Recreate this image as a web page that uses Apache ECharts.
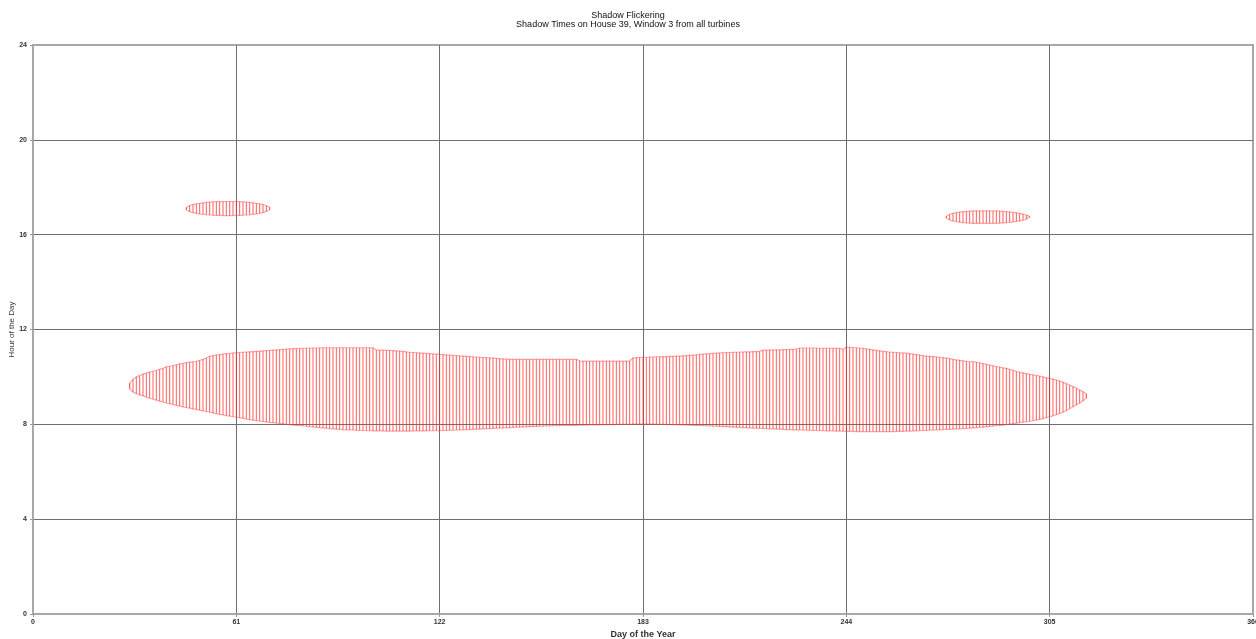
<!DOCTYPE html>
<html>
<head>
<meta charset="utf-8">
<title>Shadow Flickering</title>
<script src="https://cdn.jsdelivr.net/npm/echarts@6/dist/echarts.min.js"></script>
<style>
  html, body { margin: 0; padding: 0; background: #ffffff; overflow: hidden; }
  #chart { width: 1256px; height: 639px; }
</style>
</head>
<body>
<div id="chart"></div>
<script>
// Axis ticks
const dayTicks = [0, 61, 122, 183, 244, 305, 366];
const hourTicks = [0, 4, 8, 12, 16, 20, 24];

// Morning period: shadow start / end hour for each day from day 29 to day 316
const morningFirstDay = 29;
const morningStart = [
  9.50, 9.36, 9.29, 9.24, 9.20, 9.15, 9.10, 9.06, 9.02, 8.98, 8.94,
  8.90, 8.87, 8.84, 8.80, 8.77, 8.74, 8.71, 8.68, 8.65, 8.62,
  8.60, 8.57, 8.54, 8.51, 8.48, 8.45, 8.42, 8.40, 8.37, 8.35,
  8.32, 8.30, 8.28, 8.25, 8.23, 8.20, 8.18, 8.16, 8.14, 8.12,
  8.10, 8.08, 8.07, 8.05, 8.04, 8.02, 8.00, 7.99, 7.97, 7.96,
  7.95, 7.93, 7.92, 7.90, 7.89, 7.87, 7.86, 7.85, 7.84, 7.82,
  7.81, 7.80, 7.79, 7.78, 7.77, 7.76, 7.76, 7.75, 7.74, 7.74,
  7.73, 7.73, 7.72, 7.72, 7.72, 7.72, 7.71, 7.71, 7.71, 7.71,
  7.71, 7.71, 7.71, 7.71, 7.72, 7.72, 7.72, 7.72, 7.72, 7.73,
  7.73, 7.73, 7.73, 7.74, 7.74, 7.75, 7.75, 7.76, 7.76, 7.77,
  7.78, 7.78, 7.79, 7.80, 7.80, 7.81, 7.82, 7.82, 7.83, 7.84,
  7.84, 7.85, 7.86, 7.86, 7.87, 7.88, 7.88, 7.89, 7.89, 7.90,
  7.91, 7.91, 7.92, 7.92, 7.93, 7.93, 7.94, 7.94, 7.95, 7.95,
  7.95, 7.96, 7.96, 7.96, 7.97, 7.97, 7.97, 7.98, 7.98, 7.98,
  7.98, 7.99, 7.99, 7.99, 7.99, 8.00, 8.00, 8.00, 8.00, 8.00,
  8.01, 8.01, 8.01, 8.01, 8.01, 8.01, 8.01, 8.00, 8.00, 8.00,
  8.00, 7.99, 7.99, 7.99, 7.98, 7.98, 7.97, 7.97, 7.96, 7.96,
  7.95, 7.94, 7.94, 7.93, 7.92, 7.92, 7.91, 7.90, 7.90, 7.89,
  7.88, 7.88, 7.87, 7.86, 7.86, 7.85, 7.84, 7.84, 7.83, 7.83,
  7.82, 7.81, 7.81, 7.80, 7.80, 7.79, 7.78, 7.78, 7.77, 7.77,
  7.76, 7.76, 7.75, 7.75, 7.74, 7.74, 7.73, 7.73, 7.72, 7.72,
  7.72, 7.71, 7.71, 7.71, 7.70, 7.70, 7.70, 7.69, 7.69, 7.69,
  7.69, 7.69, 7.69, 7.69, 7.69, 7.69, 7.69, 7.69, 7.69, 7.70,
  7.70, 7.70, 7.71, 7.71, 7.72, 7.72, 7.73, 7.74, 7.74, 7.75,
  7.76, 7.76, 7.77, 7.78, 7.79, 7.79, 7.80, 7.81, 7.81, 7.82,
  7.83, 7.84, 7.85, 7.86, 7.87, 7.88, 7.90, 7.91, 7.92, 7.94,
  7.95, 7.97, 7.99, 8.01, 8.03, 8.05, 8.07, 8.09, 8.11, 8.13,
  8.15, 8.18, 8.21, 8.24, 8.28, 8.32, 8.36, 8.41, 8.46, 8.51,
  8.58, 8.66, 8.74, 8.82, 8.90, 8.99, 9.10
];
const morningEnd = [
  9.74, 9.90, 10.00, 10.06, 10.12, 10.16, 10.20, 10.24, 10.28, 10.32, 10.36,
  10.43, 10.45, 10.48, 10.51, 10.55, 10.57, 10.60, 10.62, 10.64, 10.66,
  10.70, 10.74, 10.80, 10.87, 10.90, 10.92, 10.94, 10.96, 10.98, 10.99,
  11.01, 11.02, 11.03, 11.04, 11.05, 11.06, 11.07, 11.08, 11.09, 11.10,
  11.11, 11.12, 11.13, 11.14, 11.15, 11.16, 11.17, 11.18, 11.19, 11.19,
  11.20, 11.21, 11.21, 11.22, 11.22, 11.22, 11.23, 11.23, 11.23, 11.23,
  11.23, 11.23, 11.23, 11.23, 11.23, 11.23, 11.23, 11.23, 11.23, 11.23,
  11.23, 11.23, 11.23, 11.13, 11.13, 11.13, 11.12, 11.12, 11.11, 11.10,
  11.09, 11.08, 11.06, 11.04, 11.03, 11.02, 11.01, 11.00, 10.99, 10.98,
  10.97, 10.96, 10.95, 10.94, 10.93, 10.92, 10.91, 10.90, 10.89, 10.88,
  10.87, 10.86, 10.85, 10.84, 10.83, 10.82, 10.81, 10.80, 10.79, 10.78,
  10.77, 10.76, 10.75, 10.74, 10.74, 10.74, 10.74, 10.74, 10.74, 10.74,
  10.74, 10.74, 10.74, 10.74, 10.74, 10.74, 10.74, 10.74, 10.74, 10.74,
  10.74, 10.74, 10.74, 10.74, 10.68, 10.67, 10.67, 10.67, 10.67, 10.67,
  10.67, 10.67, 10.67, 10.67, 10.67, 10.67, 10.67, 10.67, 10.67, 10.67,
  10.80, 10.81, 10.82, 10.83, 10.83, 10.84, 10.84, 10.85, 10.85, 10.86,
  10.86, 10.87, 10.87, 10.88, 10.88, 10.89, 10.90, 10.91, 10.92, 10.93,
  10.95, 10.96, 10.97, 10.98, 10.99, 11.00, 11.01, 11.02, 11.03, 11.03,
  11.04, 11.04, 11.05, 11.05, 11.06, 11.06, 11.07, 11.07, 11.08, 11.13,
  11.13, 11.13, 11.14, 11.14, 11.14, 11.15, 11.15, 11.16, 11.16, 11.17,
  11.22, 11.22, 11.22, 11.22, 11.22, 11.22, 11.21, 11.21, 11.21, 11.21,
  11.20, 11.20, 11.20, 11.17, 11.25, 11.25, 11.24, 11.23, 11.22, 11.21,
  11.18, 11.16, 11.14, 11.12, 11.10, 11.08, 11.07, 11.05, 11.04, 11.03,
  11.02, 11.01, 11.00, 10.98, 10.96, 10.94, 10.92, 10.90, 10.88, 10.87,
  10.86, 10.85, 10.83, 10.81, 10.79, 10.77, 10.74, 10.72, 10.70, 10.68,
  10.66, 10.64, 10.64, 10.62, 10.59, 10.56, 10.53, 10.50, 10.47, 10.44,
  10.41, 10.38, 10.36, 10.32, 10.28, 10.23, 10.20, 10.17, 10.14, 10.11,
  10.09, 10.06, 10.03, 10.00, 9.97, 9.94, 9.91, 9.87, 9.83, 9.78,
  9.72, 9.66, 9.59, 9.52, 9.45, 9.38, 9.28
];

// Late-winter afternoon period (days 46 to 71)
const springFirstDay = 46;
const springStart = [
  17.05, 16.97, 16.93, 16.90, 16.88, 16.86, 16.84, 16.83, 16.82, 16.81, 16.81, 16.80, 16.80,
  16.80, 16.80, 16.81, 16.81, 16.82, 16.83, 16.84, 16.86, 16.88, 16.90, 16.93, 16.98, 17.05
];
const springEnd = [
  17.15, 17.23, 17.27, 17.30, 17.32, 17.34, 17.36, 17.37, 17.38, 17.39, 17.39, 17.40, 17.40,
  17.40, 17.40, 17.39, 17.39, 17.38, 17.37, 17.36, 17.34, 17.32, 17.30, 17.27, 17.22, 17.15
];

// Autumn afternoon period (days 274 to 299)
const autumnFirstDay = 274;
const autumnStart = [
  16.70, 16.62, 16.58, 16.55, 16.53, 16.51, 16.50, 16.49, 16.48, 16.48, 16.48, 16.48, 16.48,
  16.48, 16.48, 16.48, 16.49, 16.50, 16.51, 16.52, 16.54, 16.56, 16.58, 16.61, 16.65, 16.71
];
const autumnEnd = [
  16.78, 16.86, 16.90, 16.93, 16.95, 16.97, 16.98, 16.99, 17.00, 17.00, 17.00, 17.00, 17.00,
  17.00, 17.00, 17.00, 16.99, 16.98, 16.97, 16.96, 16.94, 16.92, 16.90, 16.87, 16.83, 16.77
];

const periods = [
  { first: morningFirstDay, start: morningStart, end: morningEnd },
  { first: springFirstDay, start: springStart, end: springEnd },
  { first: autumnFirstDay, start: autumnStart, end: autumnEnd }
];

const FONT = '"Liberation Sans", Arial, sans-serif';
const NARROW = '"Liberation Sans Narrow", "Liberation Sans", Arial, sans-serif';
const SHADOW_RED = '#ff2a2a';

// One vertical bar per day, from shadow start to shadow end
function dayRows(p) {
  return p.start.map((s, i) => [p.first + i, s, p.end[i]]);
}
// Closed outline: along the end times, then back along the start times
function outline(p) {
  const top = p.end.map((e, i) => [p.first + i, e]);
  const bottom = p.start.map((s, i) => [p.first + i, s]).reverse();
  return top.concat(bottom, [top[0]]);
}

const series = [];
periods.forEach(p => {
  series.push({
    type: 'custom',
    data: dayRows(p),
    encode: { x: 0, y: [1, 2] },
    silent: true,
    renderItem: function (params, api) {
      const a = api.coord([api.value(0), api.value(1)]);
      const b = api.coord([api.value(0), api.value(2)]);
      return {
        type: 'line',
        shape: { x1: a[0], y1: a[1], x2: b[0], y2: b[1] },
        style: { stroke: SHADOW_RED, lineWidth: 1, opacity: 0.75 }
      };
    }
  });
  series.push({
    type: 'line',
    data: outline(p),
    showSymbol: false,
    silent: true,
    smooth: false,
    lineStyle: { color: 'rgba(255,60,60,0.45)', width: 1.2 }
  });
});

const chart = echarts.init(document.getElementById('chart'), null, { renderer: 'canvas' });
chart.setOption({
  animation: false,
  backgroundColor: '#ffffff',
  title: {
    text: 'Shadow Flickering',
    subtext: 'Shadow Times on House 39, Window 3 from all turbines',
    left: 'center',
    top: 6,
    itemGap: 0,
    textStyle: { fontFamily: NARROW, fontSize: 9, fontWeight: 'normal', color: '#111' },
    subtextStyle: { fontFamily: NARROW, fontSize: 9, color: '#111' }
  },
  grid: {
    left: 33, right: 3, top: 45, bottom: 25,
    containLabel: false,
    outerBoundsMode: 'none',
    show: true, borderColor: '#a8a8a8', borderWidth: 2, backgroundColor: 'transparent'
  },
  xAxis: {
    type: 'value',
    min: dayTicks[0], max: dayTicks[dayTicks.length - 1], interval: dayTicks[1] - dayTicks[0],
    name: 'Day of the Year',
    nameLocation: 'middle',
    nameGap: 16,
    nameMoveOverlap: false,
    nameTextStyle: { fontFamily: FONT, fontSize: 9, fontWeight: 'bold', color: '#333' },
    axisLine: { show: true, lineStyle: { color: '#a8a8a8', width: 2 } },
    axisTick: { show: true, length: 3, lineStyle: { color: '#999' } },
    axisLabel: { fontFamily: FONT, fontSize: 7, fontWeight: 'bold', color: '#333', margin: 5, hideOverlap: false },
    splitLine: { show: true, showMinLine: false, showMaxLine: false, lineStyle: { color: '#6e6e6e', width: 1 } }
  },
  yAxis: {
    type: 'value',
    min: hourTicks[0], max: hourTicks[hourTicks.length - 1], interval: hourTicks[1] - hourTicks[0],
    name: 'Hour of the Day',
    nameLocation: 'middle',
    nameGap: 17,
    nameMoveOverlap: false,
    nameTextStyle: { fontFamily: FONT, fontSize: 8, color: '#333' },
    axisLine: { show: true, lineStyle: { color: '#a8a8a8', width: 2 } },
    axisTick: { show: true, length: 3, lineStyle: { color: '#999' } },
    axisLabel: { fontFamily: FONT, fontSize: 7, fontWeight: 'bold', color: '#333', margin: 6 },
    splitLine: { show: true, showMinLine: false, showMaxLine: false, lineStyle: { color: '#6e6e6e', width: 1 } }
  },
  series: series
});
</script>
</body>
</html>
